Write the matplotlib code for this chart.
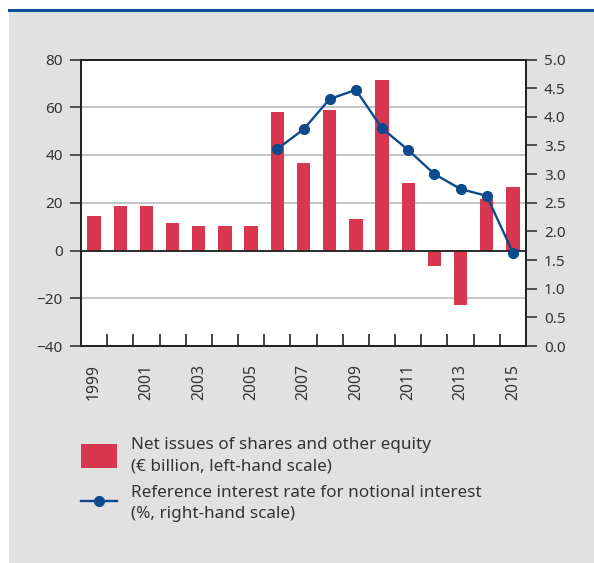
import matplotlib
matplotlib.use("Agg")
import matplotlib.pyplot as plt
from matplotlib.patches import Rectangle
from matplotlib.lines import Line2D

plt.rcParams['font.family'] = ['Noto Sans', 'DejaVu Sans']

years = list(range(1999, 2016))
net_issues = [14.5, 18.5, 18.5, 11.7, 10.1, 10.1, 10.1, 57.9, 36.5, 58.7,
              13.4, 71.3, 28.1, -6.3, -22.7, 21.4, 26.6]
rate_years = list(range(2006, 2016))
ref_rate = [3.44, 3.78, 4.31, 4.47, 3.80, 3.42, 3.00, 2.74, 2.62, 1.63]
left_ticks = [-40, -20, 0, 20, 40, 60, 80]
right_ticks = [0.0, 0.5, 1.0, 1.5, 2.0, 2.5, 3.0, 3.5, 4.0, 4.5, 5.0]
label_bars = "Net issues of shares and other equity\n(€ billion, left-hand scale)"
label_line = "Reference interest rate for notional interest\n(%, right-hand scale)"

BAR = '#d9364f'
LINE = '#0b4a8b'
BG = '#e1e1e1'
DARK = '#333333'

W, H = 594, 563
fig = plt.figure(figsize=(W / 100, H / 100), dpi=100, facecolor='white')
fig.patches.append(Rectangle((9 / W, 0), 1 - 9 / W, 1 - 11 / H, transform=fig.transFigure,
                             facecolor=BG, edgecolor='none', zorder=-10))
fig.lines.append(Line2D([9 / W, 1], [1 - 10 / H, 1 - 10 / H], transform=fig.transFigure,
                        color='#0a5096', linewidth=2.2, zorder=-5))

ax = fig.add_axes([81 / W, 1 - 346 / H, (526 - 81) / W, (346 - 59.5) / H])
ax.set_facecolor('white')
x = list(range(len(years)))
bars = ax.bar(x, net_issues, width=0.51, color=BAR, zorder=3, label=label_bars)
ax.set_xlim(-0.5, len(years) - 0.5)
ax.set_ylim(-40, 80)
ax.set_yticks(left_ticks)
ax.yaxis.grid(True, color='#b4b4b4', linewidth=1.1, zorder=0)
ax.set_axisbelow(True)
ax.axhline(0, color='#222222', linewidth=1.3, zorder=4)

ax.set_xticks(x[::2])
ax.set_xticklabels([str(y) for y in years[::2]], rotation=90)
ax.set_xticks([i + 0.5 for i in x[:-1]], minor=True)
ax.tick_params(axis='x', which='major', length=0, pad=13, labelsize=11.3, labelcolor=DARK)
ax.tick_params(axis='x', which='minor', direction='in', length=8.5, width=1.2, color='#222222')
ax.tick_params(axis='y', direction='out', length=8, width=1.2, color=DARK, labelsize=11,
               labelcolor=DARK, pad=5)
ax.set_yticklabels(['\u221240', '\u221220', '0', '20', '40', '60', '80'])
for s in ax.spines.values():
    s.set_color('#222222')
    s.set_linewidth(1.3)

ax2 = ax.twinx()
ax2.set_ylim(0, 5)
ax2.set_yticks(right_ticks)
ax2.set_yticklabels([f"{v:.1f}" for v in right_ticks])
ax2.tick_params(axis='y', direction='out', length=8, width=1.2, color=DARK, labelsize=11,
                labelcolor=DARK, pad=5)
for s in ax2.spines.values():
    s.set_color('#222222')
    s.set_linewidth(1.3)
pos = [years.index(y) for y in rate_years]
line, = ax2.plot(pos, ref_rate, color=LINE, linewidth=1.7, marker='o', markersize=7,
                 zorder=5, label=label_line)

leg = fig.legend([bars, line], [label_bars, label_line], loc='upper left',
                 bbox_to_anchor=(81 / W, 1 - 437 / H), frameon=False, fontsize=12.3,
                 borderpad=0, borderaxespad=0, handlelength=2.1, handleheight=1.75,
                 handletextpad=0.85, labelspacing=0.6, labelcolor=DARK)
plt.setp(leg.get_texts(), linespacing=1.45)

fig.savefig('out.png', dpi=100, facecolor='white')
